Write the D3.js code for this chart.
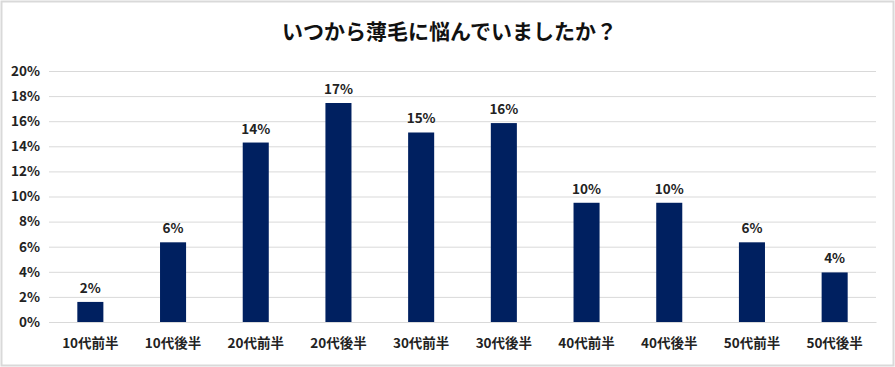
<!DOCTYPE html>
<html>
<head>
<meta charset="utf-8">
<script src="https://cdn.jsdelivr.net/npm/d3@7"></script>
<style>
  body { margin: 0; background: #fff; }
  text { font-family: "Noto Sans CJK JP", "Noto Sans", sans-serif; }
</style>
</head>
<body>
<div id="chart"></div>
<script>
var svgWidth = 895;
var svgHeight = 367;

// data
var categories = ["10代前半", "10代後半", "20代前半", "20代後半", "30代前半",
                  "30代後半", "40代前半", "40代後半", "50代前半", "50代後半"];
var values = [1.6, 6.35, 14.3, 17.45, 15.1, 15.85, 9.5, 9.5, 6.35, 3.95];
var labels = ["2%", "6%", "14%", "17%", "15%", "16%", "10%", "10%", "6%", "4%"];
var yTicks = [0, 2, 4, 6, 8, 10, 12, 14, 16, 18, 20];

var margin = { top: 71, right: 19, bottom: 45, left: 49 };
var width = svgWidth - margin.left - margin.right;
var height = 322 - margin.top;

var svg = d3.select("#chart")
  .append("svg")
  .attr("width", svgWidth)
  .attr("height", svgHeight);

// chart border
svg.append("rect")
  .attr("x", 1.5)
  .attr("y", 1.5)
  .attr("width", svgWidth - 3)
  .attr("height", svgHeight - 3)
  .attr("fill", "#fff")
  .attr("stroke", "#d9d9d9")
  .attr("stroke-width", 2);

svg.append("text")
  .attr("x", svgWidth / 2 + 2)
  .attr("y", 39)
  .attr("text-anchor", "middle")
  .style("font-size", "21px")
  .style("font-weight", "bold")
  .attr("fill", "#111")
  .text("いつから薄毛に悩んでいましたか？");

var chartGroup = svg.append("g")
  .attr("transform", `translate(${margin.left}, ${margin.top})`);

var xScale = d3.scaleBand()
  .domain(categories)
  .range([0, width])
  .paddingInner(0.685)
  .paddingOuter(0.3425);

var yScale = d3.scaleLinear()
  .domain([0, 20])
  .range([height, 0]);

// gridlines
var leftAxis = d3.axisLeft(yScale)
  .tickValues(yTicks)
  .tickSize(-width)
  .tickPadding(9)
  .tickFormat(d => d + "%");

var yAxis = chartGroup.append("g").call(leftAxis);
yAxis.select(".domain").remove();
yAxis.selectAll("line").attr("stroke", "#d9d9d9").attr("stroke-width", 1);
yAxis.selectAll("text")
  .attr("fill", "#222")
  .style("font-size", "13.5px")
  .style("font-weight", "bold");

var bottomAxis = d3.axisBottom(xScale).tickSize(0).tickPadding(16);
var xAxis = chartGroup.append("g")
  .attr("transform", `translate(0, ${height})`)
  .call(bottomAxis);
xAxis.select(".domain").attr("stroke", "#d9d9d9");
xAxis.selectAll("text")
  .attr("fill", "#222")
  .style("font-size", "13.5px")
  .style("font-weight", "bold");

chartGroup.selectAll(".bar")
  .data(values)
  .enter()
  .append("rect")
  .attr("class", "bar")
  .attr("x", (d, i) => xScale(categories[i]))
  .attr("y", d => yScale(d))
  .attr("width", xScale.bandwidth())
  .attr("height", d => height - yScale(d))
  .attr("fill", "#002060");

chartGroup.selectAll(".lbl")
  .data(values)
  .enter()
  .append("text")
  .attr("class", "lbl")
  .attr("x", (d, i) => xScale(categories[i]) + xScale.bandwidth() / 2)
  .attr("y", d => yScale(d) - 9)
  .attr("text-anchor", "middle")
  .attr("fill", "#222")
  .style("font-size", "13.5px")
  .style("font-weight", "bold")
  .text((d, i) => labels[i]);
</script>
</body>
</html>
